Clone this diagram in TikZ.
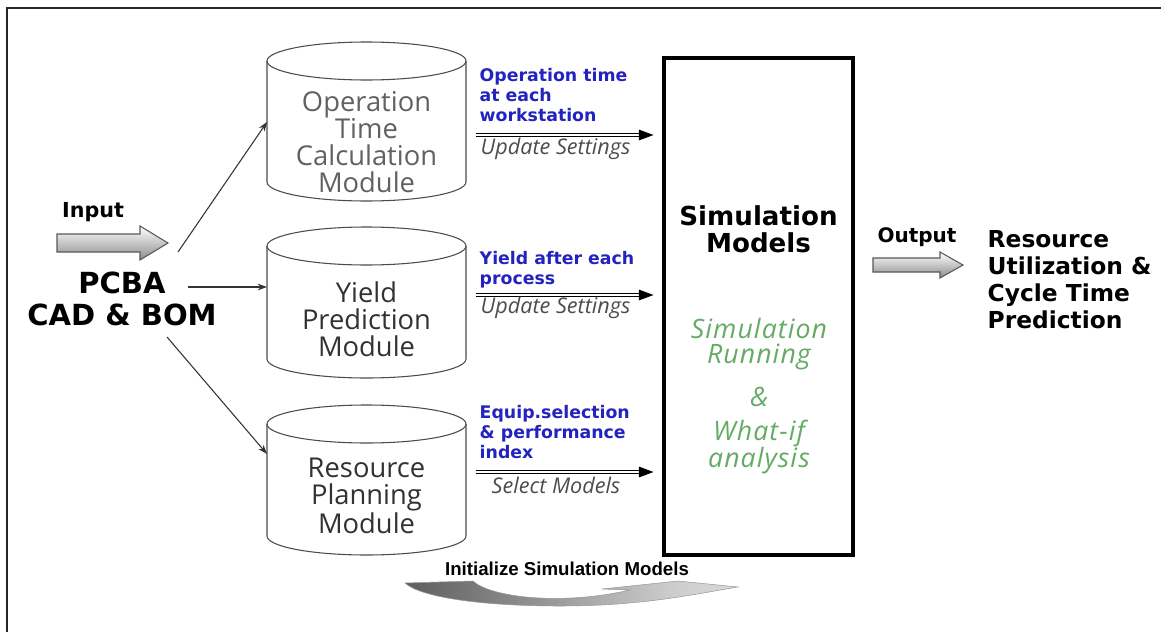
\documentclass[tikz,border=0pt]{standalone}
\usepackage{fontspec}
\setmainfont{DejaVu Sans}
\newfontfamily\cylfont{Open Sans}
\newfontfamily\greenfont[LetterSpace=4]{Open Sans}
\newfontfamily\arialfont{Liberation Sans}
\usetikzlibrary{arrows.meta,shadings}
\definecolor{bluelab}{RGB}{35,35,190}
\definecolor{greenlab}{RGB}{100,172,100}
\definecolor{cylgray}{RGB}{50,50,50}
\pgfdeclarehorizontalshading{swoosh}{100bp}{color(0bp)=(black!70); color(20bp)=(black!68); color(38bp)=(black!50); color(65bp)=(black!20); color(100bp)=(white)}
\tikzset{
  cylline/.style={draw=black!70, line width=0.8pt},
  cyltext/.style={font=\cylfont\fontsize{20.5}{20.25}\selectfont, align=center, text=cylgray},
  bluetext/.style={font=\bfseries\fontsize{13}{15}\selectfont, align=left, text=bluelab, anchor=west},
  graytext/.style={font=\cylfont\itshape\fontsize{16.2}{18}\selectfont, text=black!70},
  greentext/.style={font=\greenfont\itshape\fontsize{20}{22}\selectfont, text=greenlab},
  thinarrow/.style={draw=black!80, line width=0.8pt, -{Stealth[length=7pt,width=5pt]}},
  dblarrow/.style={draw=black, double=white, double distance=2pt, line width=0.75pt, -{Triangle[length=11pt,width=8pt]}, shorten >=6.75pt},
  fatarrow/.style={draw=black!65, line width=0.8pt, top color=white, bottom color=black!45},
  bigbold/.style={font=\bfseries\fontsize{21.8}{24}\selectfont, align=center},
}
\newcommand\mycyl[2]{%
  \pgfmathsetmacro\cta{#1+19}\pgfmathsetmacro\cbb{#2-19}%
  \draw[cylline] (366.5,\cta) ellipse [x radius=74.625pt, y radius=14.25pt];
  \draw[cylline] (267,\cta) -- (267,\cbb) .. controls (267,\cbb+10.5) and (311.5,#2) .. (366.5,#2)
     .. controls (421.5,#2) and (466,\cbb+10.5) .. (466,\cbb) -- (466,\cta);
}
\begin{document}
\begin{tikzpicture}[x=0.75pt,y=-0.75pt]
\useasboundingbox (0,0) rectangle (1161,632);
\fill[white] (0,0) rectangle (1161,632);
% frame (top and left edges)
\draw[line width=1.6pt, black!85] (1161,8) -- (7,8) -- (7,632);

% cylinders
\mycyl{42}{201}
\mycyl{227}{378}
\mycyl{405}{555}
\node[cyltext, text=black!62] (cyl1) at (366.5,142) {Operation\\Time\\Calculation\\Module};
\node[cyltext] (cyl2) at (366.5,319) {Yield\\Prediction\\Module};
\node[cyltext] (cyl3) at (366.5,496) {Resource\\Planning\\Module};
\coordinate (c1w) at (267,122);
\coordinate (c2w) at (267,287);
\coordinate (c3w) at (267,454);

% input side
\node[font=\bfseries\fontsize{15.5}{18}\selectfont] (input) at (93,212) {Input};
\path[fatarrow] (57,234) -- (140,234) -- (140,226) -- (168,243) -- (140,260) -- (140,252) -- (57,252) -- cycle;
\node[bigbold] (pcba) at (122,299) {PCBA\\CAD \& BOM};
\coordinate (p1) at (178,252);
\coordinate (p2) at (188,287);
\coordinate (p3) at (167,337);
\draw[thinarrow] (p1) -- (c1w);
\draw[thinarrow] (p2) -- (c2w);
\draw[thinarrow] (p3) -- (c3w);

% simulation box
\node[draw, line width=2.3pt, minimum width=141.75pt, minimum height=372.75pt, inner sep=0pt] (sim) at (758.5,306.5) {};
\node[font=\bfseries\fontsize{19.6}{20.25}\selectfont, align=center] (simt) at (758.5,229) {Simulation\\Models};
\node[greentext] (g1) at (759,328) {Simulation};
\node[greentext] (g2) at (759,357) {Running};
\node[greentext] (g3) at (759,397) {\&};
\node[greentext] (g4) at (759,433) {What-if};
\node[greentext] (g5) at (759,461) {analysis};

% double arrows and labels
\coordinate (d1) at (476,135);
\coordinate (d2) at (476,295);
\coordinate (d3) at (476,472);
\draw[dblarrow] (d1) -- (sim.west |- d1);
\draw[dblarrow] (d2) -- (sim.west |- d2);
\draw[dblarrow] (d3) -- (sim.west |- d3);
\node[bluetext] (b1) at (475,95) {Operation time\\at each\\workstation};
\node[bluetext] (b2) at (475,270) {Yield after each\\process};
\node[bluetext] (b3) at (475,432) {Equip.selection\\\& performance\\index};
\node[graytext, anchor=west] (u1) at (476,149) {Update Settings};
\node[graytext, anchor=west] (u2) at (476,308) {Update Settings};
\node[graytext] (u3) at (556,485) {Select Models};

% output side
\node[font=\bfseries\fontsize{15}{18}\selectfont] (output) at (917,237) {Output};
\path[fatarrow] (873,258) -- (940,258) -- (940,252) -- (963,265) -- (940,278) -- (940,272) -- (873,272) -- cycle;
\node[font=\bfseries\fontsize{17.5}{20.25}\selectfont, align=left, anchor=west] (res) at (983,280) {Resource\\Utilization \&\\Cycle Time\\Prediction};

% initialize swoosh
\node[font=\arialfont\bfseries\fontsize{14}{16}\selectfont] (init) at (567,569) {Initialize Simulation Models};
\path[draw=black!40, line width=0.4pt, shading=swoosh]
  (405,583) -- (473,581) .. controls (490,597) and (560,606) .. (630,590)
  -- (602,589) -- (678,581) -- (738,587)
  .. controls (690,595) and (640,606) .. (560,606)
  .. controls (480,606) and (420,597) .. (405,583) -- cycle;
\end{tikzpicture}
\end{document}
